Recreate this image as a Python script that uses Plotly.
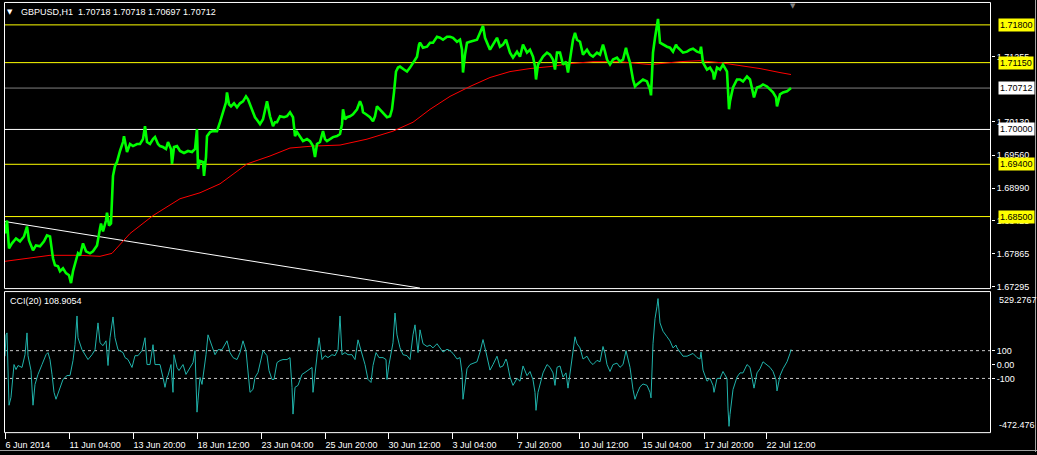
import plotly.graph_objects as go

# ---------------- data ----------------
# GBPUSD H1 close path (bar position, price)
price_points = [
    (5,1.68210),(7,1.68432),(9,1.67953),(12,1.68039),(16,1.68124),(20,1.68073),(24,1.68158),(27,1.68329),(29,1.68090),(33,1.67919),
    (36,1.68004),(40,1.67987),(44,1.68073),(47,1.68175),(50,1.68158),(53,1.67782),(55,1.67662),(58,1.67645),(60,1.67560),(63,1.67611),
    (66,1.67526),(69,1.67491),(71,1.67355),(73,1.67560),(76,1.67748),(78,1.67868),(80,1.67833),(83,1.68039),(86,1.67902),(90,1.67868),
    (93,1.67902),(97,1.68004),(100,1.68295),(101,1.68381),(103,1.68244),(106,1.68432),(107,1.68569),(109,1.68346),(111,1.68381),(113,1.69201),
    (115,1.69372),(117,1.69441),(120,1.69629),(123,1.69783),(124,1.69885),(127,1.69612),(130,1.69749),(133,1.69714),(137,1.69749),(140,1.69749),
    (143,1.69834),(145,1.70056),(147,1.69783),(150,1.69749),(153,1.69834),(155,1.69868),(158,1.69749),(160,1.69714),(163,1.69697),(166,1.69663),
    (168,1.69783),(171,1.69663),(172,1.69407),(174,1.69697),(177,1.69714),(180,1.69629),(184,1.69595),(188,1.69629),(192,1.69612),(195,1.69663),
    (197,1.70005),(198,1.69321),(200,1.69458),(203,1.69441),(204,1.69201),(206,1.69526),(207,1.69885),(210,1.69954),(213,1.69971),(217,1.69971),
    (220,1.70125),(223,1.70296),(226,1.70467),(227,1.70638),(229,1.70433),(231,1.70398),(234,1.70450),(237,1.70381),(240,1.70450),(243,1.70484),
    (246,1.70569),(248,1.70518),(250,1.70433),(253,1.70296),(255,1.70210),(258,1.70142),(260,1.70091),(263,1.70176),(265,1.70347),(267,1.70484),
    (270,1.70227),(273,1.70056),(275,1.70125),(277,1.70125),(280,1.70227),(284,1.70210),(287,1.70227),(290,1.70296),(293,1.70210),(295,1.69885),
    (297,1.69954),(300,1.69885),(303,1.69800),(307,1.69834),(310,1.69800),(313,1.69714),(315,1.69526),(317,1.69749),(320,1.69783),(323,1.69971),
    (325,1.69834),(327,1.69800),(330,1.69834),(333,1.69868),(337,1.69885),(340,1.69920),(342,1.70091),(343,1.70347),(345,1.70176),(347,1.70210),
    (350,1.70227),(353,1.70262),(357,1.70347),(360,1.70484),(362,1.70398),(363,1.70296),(366,1.70262),(370,1.70210),(373,1.70142),(375,1.70227),
    (377,1.70398),(380,1.70347),(383,1.70296),(387,1.70210),(390,1.70227),(392,1.70347),(394,1.70638),(396,1.70997),(398,1.71065),(400,1.71082),
    (404,1.71031),(407,1.70997),(410,1.71065),(413,1.71151),(417,1.71253),(419,1.71459),(420,1.71493),(423,1.71407),(427,1.71424),(430,1.71493),
    (433,1.71493),(437,1.71595),(440,1.71578),(443,1.71544),(447,1.71595),(450,1.71595),(453,1.71578),(457,1.71510),(460,1.71544),(462,1.71373),
    (463,1.70980),(465,1.71288),(467,1.71493),(470,1.71510),(474,1.71527),(477,1.71544),(480,1.71664),(483,1.71783),(485,1.71578),(487,1.71493),
    (490,1.71373),(493,1.71459),(497,1.71578),(500,1.71424),(503,1.71459),(506,1.71544),(507,1.71493),(510,1.71322),(513,1.71236),(517,1.71339),
    (520,1.71253),(523,1.71459),(527,1.71322),(530,1.71373),(533,1.71253),(535,1.71082),(536,1.70860),(538,1.71117),(540,1.71168),(543,1.71253),
    (547,1.71322),(550,1.71288),(553,1.71202),(555,1.71031),(557,1.71322),(560,1.71322),(563,1.71117),(566,1.71168),(568,1.70980),(570,1.71236),
    (573,1.71544),(575,1.71664),(577,1.71544),(580,1.71510),(583,1.71288),(587,1.71373),(590,1.71288),(593,1.71253),(597,1.71322),(600,1.71288),
    (603,1.71459),(605,1.71339),(607,1.71202),(610,1.71117),(613,1.71202),(617,1.71236),(620,1.71168),(623,1.71202),(626,1.71407),(627,1.71322),
    (630,1.71151),(633,1.70860),(635,1.70740),(637,1.70775),(640,1.70826),(643,1.70860),(647,1.70826),(650,1.70689),(651,1.70586),(653,1.71322),
    (655,1.71578),(657,1.71766),(658,1.71903),(660,1.71493),(663,1.71459),(667,1.71424),(670,1.71407),(673,1.71339),(676,1.71459),(677,1.71424),
    (680,1.71373),(683,1.71322),(687,1.71339),(690,1.71373),(693,1.71390),(697,1.71339),(700,1.71322),(701,1.71424),(703,1.71151),(707,1.71031),
    (710,1.71065),(713,1.70980),(714,1.70860),(717,1.71065),(720,1.71031),(723,1.71117),(727,1.70997),(728,1.70569),(729,1.70347),(730,1.70484),
    (733,1.70723),(737,1.70860),(740,1.70860),(743,1.70826),(747,1.70911),(750,1.70860),(753,1.70638),(754,1.70552),(757,1.70723),(760,1.70740),
    (763,1.70775),(767,1.70740),(770,1.70689),(773,1.70638),(776,1.70552),(777,1.70398),(780,1.70604),(783,1.70638),(787,1.70655),(790,1.70706),
    (791,1.70712),
]

# moving average (red)
ma_points = [
    (5,1.67730),(30,1.67780),(50,1.67833),(80,1.67833),(100,1.67816),(112,1.67867),(130,1.68209),(153,1.68517),(180,1.68807),(200,1.68910),
    (220,1.69064),(247,1.69406),(270,1.69543),(290,1.69680),(313,1.69714),(340,1.69731),(367,1.69833),(393,1.69970),(413,1.70124),(430,1.70346),
    (450,1.70569),(470,1.70740),(490,1.70894),(510,1.70996),(530,1.71048),(550,1.71082),(570,1.71133),(593,1.71167),(620,1.71167),(640,1.71133),
    (650,1.71116),(660,1.71133),(680,1.71167),(700,1.71184),(720,1.71150),(740,1.71099),(760,1.71048),(780,1.70979),(791,1.70945),
]

# CCI(20)
cci_points = [
    (5,60),(6,214),(7,228),(8,-21),(9,-293),(11,-236),(13,-71),(14,0),(16,-36),(18,-7),(22,-21),(23,14),(25,71),(27,228),(28,64),
    (31,-43),(33,-293),(35,-143),(38,-71),(42,0),(46,71),(48,86),(50,36),(52,-71),(54,-200),(56,-250),(60,-164),(63,-107),(67,-79),
    (70,-79),(73,29),(75,143),(77,350),(78,193),(82,107),(85,71),(88,36),(92,71),(95,107),(98,300),(100,157),(103,136),(106,171),
    (108,-7),(110,193),(113,343),(115,193),(118,107),(123,86),(125,50),(128,36),(132,-21),(135,64),(138,64),(142,100),(145,193),
    (147,0),(150,0),(153,143),(155,0),(160,0),(163,-93),(165,-164),(167,-93),(168,-79),(171,0),(173,-200),(174,71),(177,-21),
    (179,-43),(183,0),(186,-71),(190,-21),(193,14),(195,100),(197,-343),(198,-257),(200,-93),(202,-143),(204,-43),(206,71),(208,214),
    (212,136),(215,71),(218,107),(222,107),(227,171),(230,86),(233,50),(237,36),(240,86),(243,171),(246,100),(248,-57),(250,-200),
    (253,-179),(255,-93),(258,-57),(263,100),(267,64),(269,-43),(272,-107),(274,-107),(277,14),(280,29),(283,36),(287,36),(290,50),
    (292,-164),(293,-357),(295,-164),(298,-150),(302,-71),(305,-57),(308,-43),(312,-21),(313,-200),(316,-21),(319,193),(322,36),
    (325,64),(328,50),(332,71),(335,64),(338,107),(340,350),(342,71),(345,86),(348,71),(352,71),(355,36),(358,178),(362,71),(365,0),
    (368,-107),(371,-129),(373,-7),(376,86),(379,50),(383,50),(386,36),(387,-107),(389,0),(393,157),(395,371),(397,214),(400,121),
    (403,71),(407,64),(410,36),(413,214),(415,286),(418,86),(420,250),(423,150),(427,130),(430,140),(433,120),(437,150),(440,120),
    (443,90),(447,110),(450,100),(453,80),(457,40),(460,50),(462,-60),(463,-250),(465,-150),(467,-30),(470,0),(474,10),(477,20),
    (480,90),(483,180),(485,120),(487,60),(490,-40),(493,0),(497,60),(500,-20),(503,-10),(506,40),(507,20),(510,-90),(513,-150),
    (517,-100),(520,-120),(523,-10),(527,-80),(530,-50),(533,-110),(535,-200),(536,-330),(538,-200),(540,-150),(543,-60),(547,0),
    (550,-20),(553,-60),(555,-150),(557,-20),(560,-10),(563,-90),(566,-60),(568,-170),(570,-60),(573,120),(575,200),(577,150),
    (580,120),(583,40),(587,60),(590,20),(593,0),(597,30),(600,20),(603,130),(605,80),(607,0),(610,-50),(613,0),(617,10),(620,-20),
    (623,0),(626,100),(627,70),(630,-20),(633,-180),(635,-250),(637,-210),(640,-160),(643,-140),(647,-150),(650,-200),(651,-240),
    (653,150),(655,330),(657,420),(658,475),(660,300),(663,240),(667,200),(670,170),(673,120),(676,140),(677,120),(680,90),(683,60),
    (687,60),(690,70),(693,80),(697,50),(700,40),(701,90),(703,-40),(707,-120),(710,-100),(713,-150),(714,-200),(717,-100),(720,-100),
    (723,-50),(727,-100),(728,-320),(729,-445),(730,-360),(733,-180),(737,-90),(740,-60),(743,-60),(747,0),(750,-20),(753,-130),
    (754,-170),(757,-60),(760,-30),(763,20),(767,0),(770,-20),(773,-50),(776,-110),(777,-190),(780,-80),(783,-30),(787,20),(790,80),
    (791,109),
]

# trend line endpoints (bar, price)
trend_bars = [5, 420]
trend_prices = [1.68415, 1.67269]

# horizontal levels
level_prices = [1.71800, 1.71150, 1.70712, 1.70000, 1.69400, 1.68500]
level_colors = ["#ffff00", "#ffff00", "#808080", "#ffffff", "#ffff00", "#ffff00"]
level_label_bg = ["#ffff00", "#ffff00", "#ffffff", "#ffffff", "#ffff00", "#ffff00"]

price_ticks = [1.67295, 1.67865, 1.68425, 1.68990, 1.69560, 1.70130, 1.71255]
price_tick_text = ["1.67295", "1.67865", "1.68425", "1.68990", "1.69560", "1.70130", "1.71255"]

cci_ticks = [100, 0, -100]
cci_tick_text = ["100", "0.00", "-100"]
cci_max_label, cci_min_label = "529.2767", "-472.476"
cci_levels = [100, -100]

time_ticks = [5, 69, 133, 197, 261, 325, 388, 452, 517, 579, 642, 704, 766]
time_labels = ["6 Jun 2014", "11 Jun 04:00", "13 Jun 20:00", "18 Jun 12:00", "23 Jun 04:00",
               "25 Jun 20:00", "30 Jun 12:00", "3 Jul 04:00", "7 Jul 20:00", "10 Jul 12:00",
               "15 Jul 04:00", "17 Jul 20:00", "22 Jul 12:00"]

title_text = "GBPUSD,H1\u00a0\u00a01.70718 1.70718 1.70697 1.70712"
cci_title = "CCI(20) 108.9054"

# ---------------- figure ----------------
W, H = 1037, 455
FONT = "Liberation Sans, Arial, sans-serif"

def fx(p):
    return p / W

def fy(p):
    return 1 - p / H

bars, closes = zip(*price_points)
ma_b, ma_v = zip(*ma_points)
cci_b, cci_v = zip(*cci_points)

fig = go.Figure()
fig.add_trace(go.Scatter(x=trend_bars, y=trend_prices, mode="lines",
                         line=dict(color="#ffffff", width=1), xaxis="x", yaxis="y", hoverinfo="skip"))
fig.add_trace(go.Scatter(x=list(ma_b), y=list(ma_v), mode="lines",
                         line=dict(color="#ff0000", width=1), xaxis="x", yaxis="y"))
fig.add_trace(go.Scatter(x=list(bars), y=list(closes), mode="lines",
                         line=dict(color="#00ff00", width=2.6), xaxis="x", yaxis="y"))
fig.add_trace(go.Scatter(x=list(cci_b), y=list(cci_v), mode="lines",
                         line=dict(color="#20b2aa", width=1), xaxis="x2", yaxis="y2"))

shapes = []
for lvl, col in zip(level_prices, level_colors):
    shapes.append(dict(type="line", xref="x domain", yref="y", x0=0, x1=1, y0=lvl, y1=lvl,
                       line=dict(color=col, width=1), layer="below"))
for lvl in cci_levels:
    shapes.append(dict(type="line", xref="x2 domain", yref="y2", x0=0, x1=1, y0=lvl, y1=lvl,
                       line=dict(color="#c8c8c8", width=1, dash="3px,3px"), layer="below"))
# pane frames (half-pixel positions for crisp 1px lines)
shapes.append(dict(type="rect", xref="paper", yref="paper", x0=fx(4.5), x1=fx(990.5), y0=fy(290.5), y1=fy(2.5),
                   line=dict(color="#ffffff", width=1)))
shapes.append(dict(type="rect", xref="paper", yref="paper", x0=fx(4.5), x1=fx(990.5), y0=fy(435.5), y1=fy(293.5),
                   line=dict(color="#ffffff", width=1)))
# window border
shapes.append(dict(type="line", xref="paper", yref="paper", x0=fx(1035.5), x1=fx(1035.5), y0=0, y1=1,
                   line=dict(color="#a0a0a0", width=1)))
shapes.append(dict(type="line", xref="paper", yref="paper", x0=0, x1=1, y0=fy(453.5), y1=fy(453.5),
                   line=dict(color="#a0a0a0", width=1)))

annotations = []
for lvl, bg in zip(level_prices, level_label_bg):
    annotations.append(dict(x=fx(998), xref="paper", y=lvl, yref="y", text=f"{lvl:.5f}",
                            showarrow=False, xanchor="left", yanchor="middle", bgcolor=bg,
                            borderpad=1, font=dict(color="#000000", size=9, family=FONT)))
annotations.append(dict(x=fx(997), xref="paper", y=fy(302), yref="paper", text=cci_max_label,
                        showarrow=False, xanchor="left", yanchor="middle",
                        font=dict(color="#ffffff", size=9, family=FONT)))
annotations.append(dict(x=fx(997), xref="paper", y=fy(428), yref="paper", text=cci_min_label,
                        showarrow=False, xanchor="left", yanchor="middle",
                        font=dict(color="#ffffff", size=9, family=FONT)))
annotations.append(dict(x=fx(5), xref="paper", y=fy(12), yref="paper", text="\u25bc",
                        showarrow=False, xanchor="left", yanchor="middle",
                        font=dict(color="#ffffff", size=7, family="DejaVu Sans")))
annotations.append(dict(x=fx(19), xref="paper", y=fy(12), yref="paper", text=title_text,
                        showarrow=False, xanchor="left", yanchor="middle",
                        font=dict(color="#ffffff", size=9, family=FONT)))
annotations.append(dict(x=fx(8), xref="paper", y=fy(303), yref="paper", text=cci_title,
                        showarrow=False, xanchor="left", yanchor="middle",
                        font=dict(color="#ffffff", size=9, family=FONT)))
annotations.append(dict(x=793, xref="x", y=fy(6), yref="paper", text="\u25bc",
                        showarrow=False, xanchor="center", yanchor="middle",
                        font=dict(color="#808080", size=7, family="DejaVu Sans")))

fig.update_layout(
    width=W, height=H,
    margin=dict(l=0, r=0, t=0, b=0),
    paper_bgcolor="#000000", plot_bgcolor="#000000",
    showlegend=False,
    font=dict(family=FONT, size=9, color="#ffffff"),
    xaxis=dict(domain=[fx(4), fx(991)], range=[4, 991], anchor="y", visible=False,
               showgrid=False, zeroline=False, fixedrange=True),
    xaxis2=dict(domain=[fx(4), fx(991)], range=[4, 991], anchor="y2", showgrid=False, zeroline=False,
                showline=False, tickmode="array", tickvals=time_ticks, ticktext=time_labels,
                ticks="outside", ticklen=6, tickcolor="#ffffff", tickwidth=1,
                ticklabelposition="outside right", ticklabelstandoff=4,
                tickfont=dict(color="#ffffff", size=9, family=FONT)),
    yaxis=dict(domain=[fy(291), fy(2)], range=[1.67252, 1.72194], anchor="x", side="right",
               showgrid=False, zeroline=False, showline=False, tickmode="array",
               tickvals=price_ticks, ticktext=price_tick_text, ticks="outside", ticklen=3,
               tickcolor="#ffffff", tickfont=dict(color="#ffffff", size=9, family=FONT)),
    yaxis2=dict(domain=[fy(435), fy(293)], range=[-486.8, 529.28], anchor="x2", side="right",
                showgrid=False, zeroline=False, showline=False, tickmode="array",
                tickvals=cci_ticks, ticktext=cci_tick_text, ticks="outside", ticklen=3,
                tickcolor="#ffffff", tickfont=dict(color="#ffffff", size=9, family=FONT)),
    shapes=shapes,
    annotations=annotations,
)

fig.write_html("out.html", config={"displayModeBar": False},
               post_script="document.body.style.margin='0';document.body.style.overflow='hidden';")
